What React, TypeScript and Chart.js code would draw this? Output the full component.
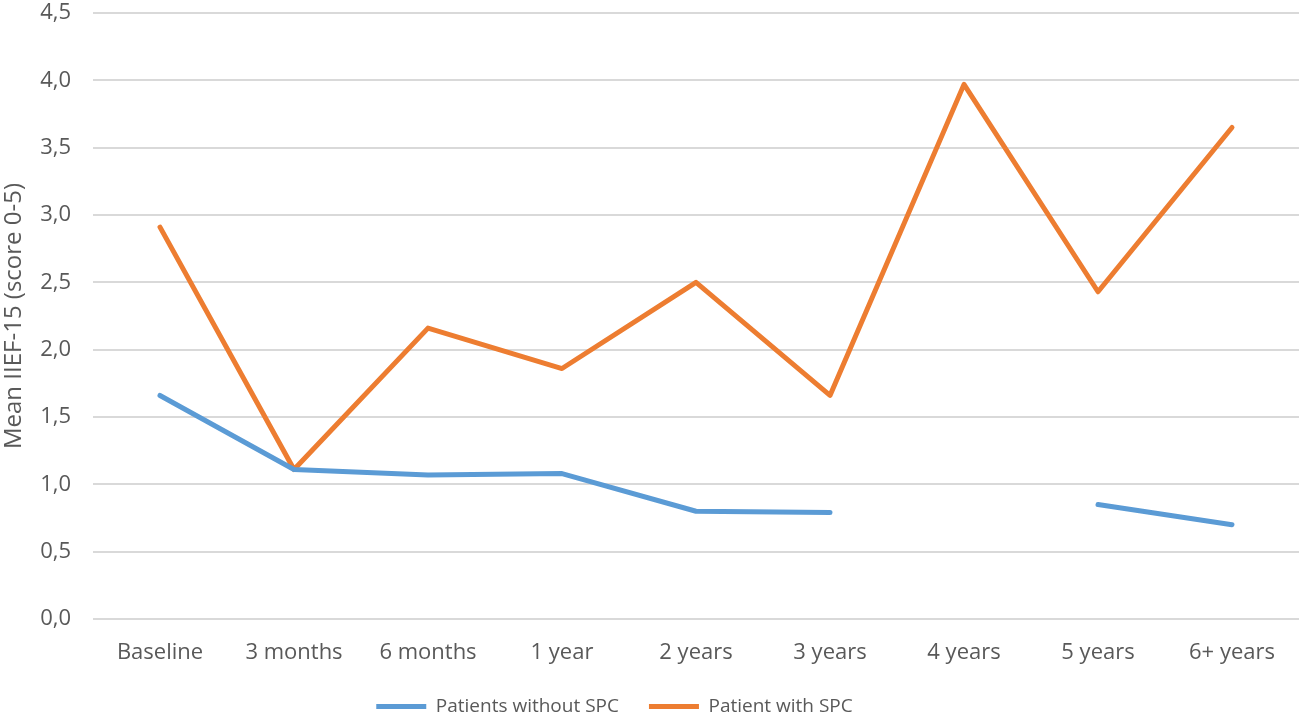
import React, { useEffect, useRef } from "react";
import { Chart, registerables } from "chart.js";

Chart.register(...registerables);

const categories = ["Baseline", "3 months", "6 months", "1 year", "2 years", "3 years", "4 years", "5 years", "6+ years"];
const withoutSPC: (number | null)[] = [1.66, 1.11, 1.07, 1.08, 0.80, 0.79, null, 0.85, 0.70];
const withSPC: number[] = [2.91, 1.11, 2.16, 1.86, 2.50, 1.66, 3.97, 2.43, 3.65];
const seriesNames = ["Patients without SPC", "Patient with SPC"];
const yTitle = "Mean IIEF-15 (score 0-5)";

const FONT = "'Open Sans', 'Liberation Sans', sans-serif";
const TEXT = "#595959";

const legendShift = {
  id: "legendShift",
  afterLayout(chart: any) {
    if (chart.legend) chart.legend.right -= 70;
  },
};

export default function App() {
  const ref = useRef<HTMLCanvasElement>(null);
  useEffect(() => {
    document.body.style.margin = "0";
    const chart = new Chart(ref.current!, {
      type: "line",
      data: {
        labels: categories,
        datasets: [
          {
            label: seriesNames[0],
            data: withoutSPC,
            borderColor: "#5B9BD5",
            backgroundColor: "#5B9BD5",
            borderWidth: 5,
            pointRadius: 0,
            spanGaps: false,
            tension: 0,
            borderCapStyle: "round",
            borderJoinStyle: "round",
          },
          {
            label: seriesNames[1],
            data: withSPC,
            borderColor: "#ED7D31",
            backgroundColor: "#ED7D31",
            borderWidth: 5,
            pointRadius: 0,
            tension: 0,
            borderCapStyle: "round",
            borderJoinStyle: "round",
          },
        ],
      },
      plugins: [legendShift],
      options: {
        animation: false,
        responsive: false,
        layout: { padding: { top: 0, right: 0, left: 0, bottom: -5 } },
        plugins: {
          tooltip: { enabled: false },
          legend: {
            position: "bottom",
            labels: {
              font: { family: FONT, size: 19 },
              color: TEXT,
              boxWidth: 50,
              boxHeight: 5,
              padding: 30,
              generateLabels: (c: any) =>
                Chart.defaults.plugins.legend.labels.generateLabels(c).map((l: any) => ({
                  ...l,
                  fillStyle: l.strokeStyle,
                  lineWidth: 0,
                })),
            },
          },
        },
        scales: {
          x: {
            offset: true,
            grid: { display: false, drawTicks: false },
            border: { display: false },
            ticks: { font: { family: FONT, size: 22 }, color: TEXT, padding: 21, maxRotation: 0 },
            afterFit: (s: any) => { s.height = 48; },
          },
          y: {
            min: 0,
            max: 4.5,
            ticks: {
              stepSize: 0.5,
              font: { family: FONT, size: 22 },
              color: TEXT,
              padding: 22,
              callback: (v: any) => Number(v).toFixed(1).replace(".", ","),
            },
            grid: { color: "#D9D9D9", lineWidth: 2, drawTicks: false },
            border: { display: false },
            title: { display: true, text: yTitle, font: { family: FONT, size: 24 }, color: TEXT, padding: 0 },
            afterFit: (s: any) => { s.width = 93; s.paddingTop = 13; s.paddingBottom = 0; },
          },
        },
      },
    });
    return () => chart.destroy();
  }, []);
  return (
    <div style={{ width: 1299, height: 721, background: "#fff" }}>
      <canvas ref={ref} width={1299} height={721} style={{ display: "block" }} />
    </div>
  );
}
